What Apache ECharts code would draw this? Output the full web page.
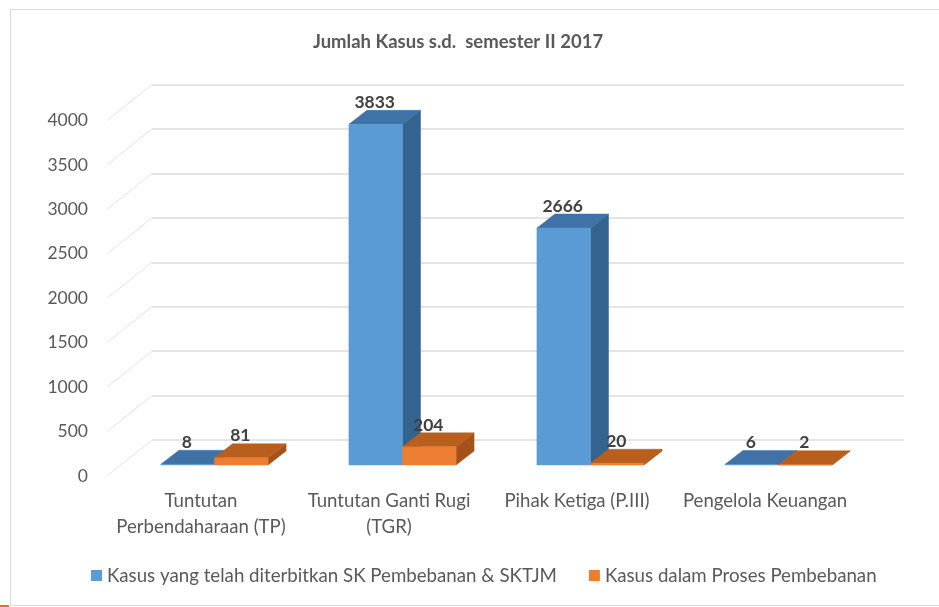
<!DOCTYPE html>
<html><head><meta charset="utf-8">
<style>html,body{margin:0;padding:0;background:#fff}#c{width:939px;height:607px}</style>
<script src="https://cdn.jsdelivr.net/npm/echarts@6/dist/echarts.min.js"></script>
</head><body><div id="c"></div>
<script>
const categories = ['Tuntutan\nPerbendaharaan (TP)', 'Tuntutan Ganti Rugi\n(TGR)', 'Pihak Ketiga (P.III)', 'Pengelola Keuangan'];
const issued = [8, 3833, 2666, 6];
const inProcess = [81, 204, 20, 2];
const yTicks = [0, 500, 1000, 1500, 2000, 2500, 3000, 3500, 4000];
const seriesNames = ['Kasus yang telah diterbitkan SK Pembebanan & SKTJM', 'Kasus dalam Proses Pembebanan'];
const FONT = 'Lato';
const TEXT = '#595959';

function box(front, top, side, slot) {
  return function (params, api) {
    const base = api.coord([api.value(0), 0]);
    const head = api.coord([api.value(0), api.value(1)]);
    const band = api.size([1, 0])[0];
    const w = band * 0.285, dx = 18, dy = 14;
    const x0 = base[0] + 13.5 + slot * w, x1 = x0 + w;
    const yb = base[1] - 11, yt = head[1] - 11;
    const poly = (pts, fill) => ({ type: 'polygon', shape: { points: pts }, style: { fill: fill, stroke: fill, lineWidth: 0.5 } });
    return { type: 'group', children: [
      poly([[x1, yb], [x1 + dx, yb - dy], [x1 + dx, yt - dy], [x1, yt]], side),
      poly([[x0, yt], [x0 + dx, yt - dy], [x1 + dx, yt - dy], [x1, yt]], top),
      poly([[x0, yb], [x1, yb], [x1, yt], [x0, yt]], front),
      { type: 'text', style: { text: String(api.value(1)), x: (x0 + x1) / 2 - 1, y: yt - 22, align: 'center', verticalAlign: 'middle',
          font: 'bold 17.5px ' + FONT, fill: '#404040' } }
    ] };
  };
}

const chart = echarts.init(document.getElementById('c'), null, { renderer: 'canvas' });
chart.setOption({
  animation: false,
  backgroundColor: '#fff',
  title: { text: 'Jumlah Kasus s.d.  semester II 2017', left: 308, top: 28,
    textStyle: { fontFamily: FONT, fontSize: 18.5, fontWeight: 'bold', color: TEXT } },
  legend: { data: seriesNames, left: 86, top: 561, icon: 'rect', itemWidth: 11, itemHeight: 11, itemGap: 32,
    textStyle: { fontFamily: FONT, fontSize: 18.7, color: TEXT } },
  grid: [
    { left: 107, width: 752, top: 120.5, height: 355.5 },
    { left: 152, width: 752, top: 84.5, height: 355.5 }
  ],
  xAxis: [
    { type: 'category', gridIndex: 0, data: categories, axisLine: { show: false }, axisTick: { show: false },
      axisLabel: { interval: 0, color: TEXT, fontFamily: FONT, fontSize: 18.6, lineHeight: 26, margin: 12 } },
    { type: 'category', gridIndex: 1, data: categories, show: false }
  ],
  yAxis: [
    { type: 'value', gridIndex: 0, min: 0, max: 4000, interval: 500, axisLine: { show: false }, axisTick: { show: false },
      splitLine: { show: false }, axisLabel: { color: TEXT, fontFamily: FONT, fontSize: 17.5, margin: 19, formatter: v => String(v) } },
    { type: 'value', gridIndex: 1, min: 0, max: 4000, interval: 500, axisLine: { show: false }, axisTick: { show: false },
      axisLabel: { show: false }, splitLine: { lineStyle: { color: '#dcdcdc', width: 1.5 } } }
  ],
  series: [
    { type: 'custom', name: 'wall', xAxisIndex: 0, yAxisIndex: 0, silent: true, legendHoverLink: false,
      data: yTicks.map(v => [0, v]), encode: { x: 0, y: 1 },
      renderItem: function (params, api) {
        const p = api.coord([0, api.value(1)]);
        const x0 = 107, y0 = p[1];
        return { type: 'line', shape: { x1: x0, y1: y0, x2: x0 + 45, y2: y0 - 36 },
          style: { stroke: '#e4e4e4', lineWidth: 1 } };
      } },
    { type: 'custom', name: seriesNames[0], xAxisIndex: 0, yAxisIndex: 0, itemStyle: { color: '#5B9BD5' },
      data: issued.map((v, i) => [i, v]), encode: { x: 0, y: 1 },
      renderItem: box('#5B9BD5', '#3F72A6', '#35638F', -1) },
    { type: 'custom', name: seriesNames[1], xAxisIndex: 0, yAxisIndex: 0, itemStyle: { color: '#ED7D31' },
      data: inProcess.map((v, i) => [i, v]), encode: { x: 0, y: 1 },
      renderItem: box('#ED7D31', '#B85F1E', '#A5521A', 0) }
  ],
  graphic: [
    { type: 'polyline', shape: { points: [[10.5, 605.5], [10.5, 9.5], [939, 9.5]] }, style: { stroke: '#dcdcdc', fill: null, lineWidth: 1.2 }, silent: true },
    { type: 'line', shape: { x1: 10, y1: 605.5, x2: 939, y2: 605.5 }, style: { stroke: '#dcdcdc', lineWidth: 1.2 }, silent: true },
    { type: 'rect', shape: { x: 0, y: 605, width: 9, height: 2 }, style: { fill: '#E0703A' }, silent: true }
  ]
});
</script></body></html>
